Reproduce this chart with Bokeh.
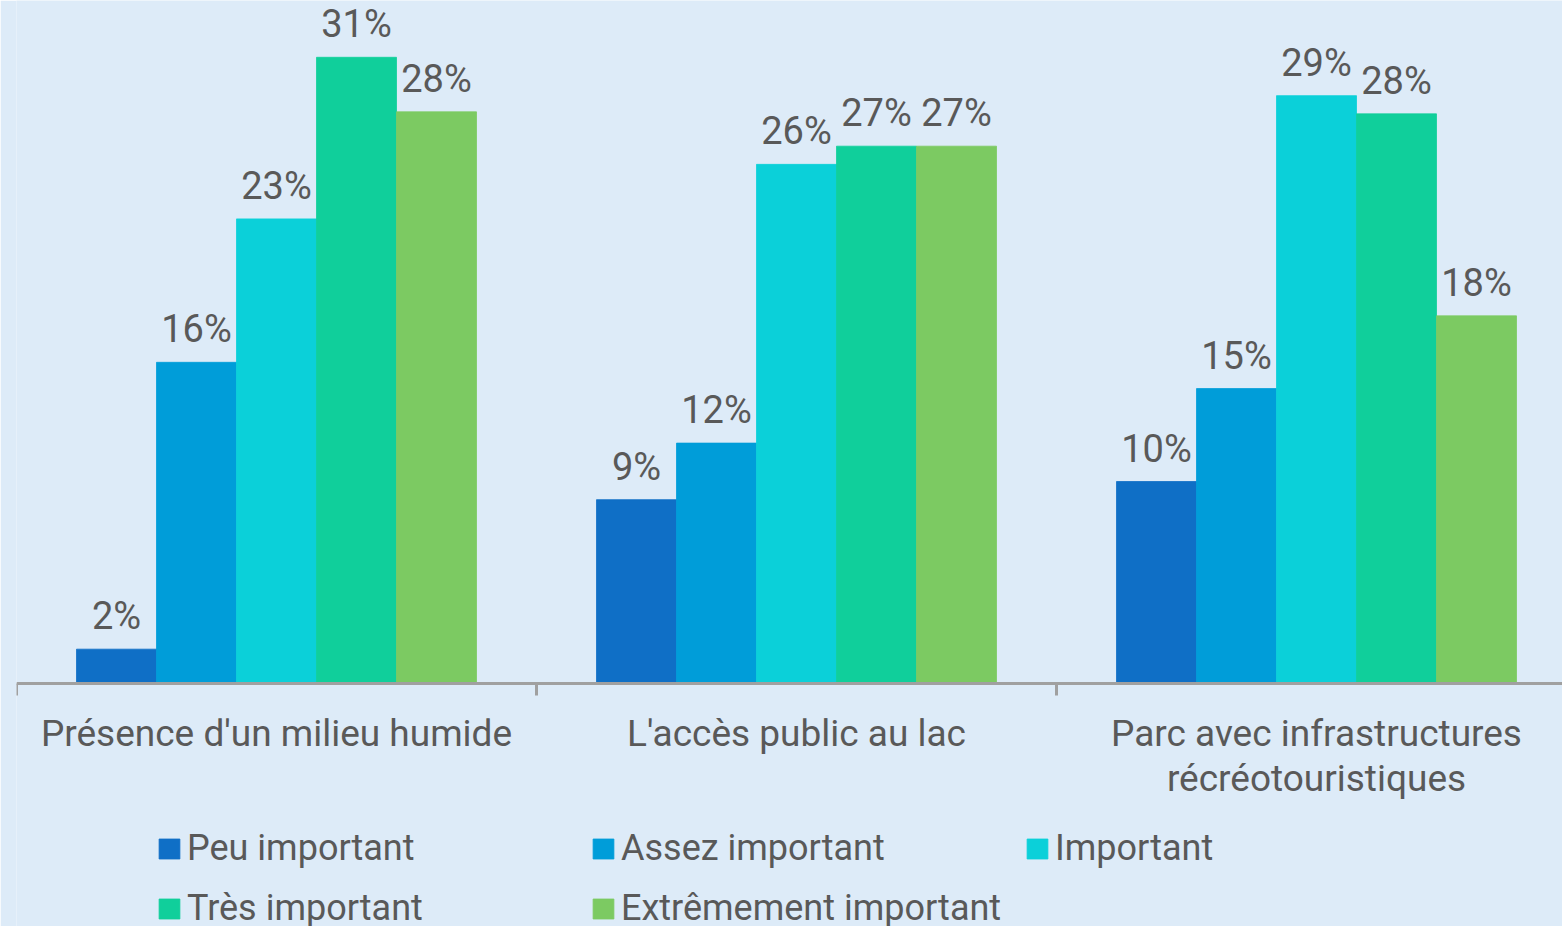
from bokeh.plotting import figure
from bokeh.models import (ColumnDataSource, Range1d, LinearAxis, FixedTicker,
                          LabelSet, Legend, LegendItem)
from bokeh.core.properties import value
from bokeh.embed import file_html
from bokeh.resources import INLINE

# ---- data ----
categories = ["Présence d'un milieu humide", "L'accès public au lac",
              "Parc avec infrastructures\nrécréotouristiques"]
series = ["Peu important", "Assez important", "Important",
          "Très important", "Extrêmement important"]
peu_important = [1.7, 9.1, 10.0]
assez_important = [15.9, 11.9, 14.6]
important = [23.0, 25.7, 29.1]
tres_important = [31.0, 26.6, 28.2]
extremement_important = [28.3, 26.6, 18.2]
colors = ["#0F6FC6", "#009DD9", "#0BD0D9", "#10CF9B", "#7CCA62"]

values = [peu_important, assez_important, important, tres_important, extremement_important]

# ---- layout constants ----
W, H = 1562, 926
LEFT = 16
CAT_PX = 520.0        # pixels per category
BAR_PX = 80.0         # bar width in px
PX_PER_UNIT = 20.2    # pixels per percentage point
BASE_Y = 683          # baseline from figure top
BG = "#DDEBF8"
TXT = "#595959"
AXIS = "#A0A0A0"
FONT = "Roboto"

bar_w = BAR_PX / CAT_PX

p = figure(width=W, height=H, output_backend="svg", toolbar_location=None,
           x_range=Range1d(0, (W - LEFT) / CAT_PX),
           y_range=Range1d(-(H - BASE_Y) / PX_PER_UNIT, BASE_Y / PX_PER_UNIT),
           x_axis_location=None, y_axis_location=None,
           min_border_left=LEFT, min_border_right=0, min_border_top=0, min_border_bottom=0,
           background_fill_color=BG, border_fill_color=BG, outline_line_color=None)
p.xgrid.visible = False
p.ygrid.visible = False

renderers = []
for j, (name, vals, col) in enumerate(zip(series, values, colors)):
    xs = [i + 0.5 + (j - 2) * bar_w for i in range(len(categories))]
    src = ColumnDataSource(dict(x=xs, top=vals,
                                lab=[f"{round(v)}%" for v in vals]))
    r = p.vbar(x="x", top="top", bottom=0, width=bar_w, source=src,
               fill_color=col, line_color=col, line_width=0.8)
    renderers.append(r)
    p.add_layout(LabelSet(x="x", y="top", text="lab", source=src,
                          text_align="center", text_baseline="alphabetic",
                          y_offset=20, text_font=value(FONT),
                          text_font_size="38px", text_color=TXT))

# axis line with boundary ticks
ax = LinearAxis(fixed_location=0, ticker=FixedTicker(ticks=list(range(len(categories) + 1))),
                axis_line_color=AXIS, axis_line_width=3,
                major_tick_line_color=AXIS, major_tick_line_width=3,
                major_tick_out=12, major_tick_in=0,
                minor_tick_line_color=None,
                major_label_text_alpha=0, major_label_text_font_size="1px")
p.add_layout(ax, "below")

# category labels
cat_src = ColumnDataSource(dict(x=[i + 0.5 for i in range(len(categories))],
                                y=[0] * len(categories), t=categories))
p.text(x="x", y="y", text="t", source=cat_src, text_align="center",
       text_baseline="top", y_offset=28, text_font=value(FONT),
       text_font_size="37px", text_color=TXT, text_line_height=1.06)

# legends (three columns)
columns = [[0, 3], [1, 4], [2]]
col_x = [140, 574, 1008]
ITEM_H, GAP = 42, 18
for cx, idxs in zip(col_x, columns):
    items = [LegendItem(label=series[k], renderers=[renderers[k]]) for k in idxs]
    n = len(idxs)
    top = H - 848 + ITEM_H // 2
    height = n * ITEM_H + (n - 1) * GAP
    lg = Legend(items=items, location=(cx, top - height), orientation="vertical",
                glyph_width=26, glyph_height=25, label_standoff=5,
                padding=0, margin=0, spacing=GAP, border_line_color=None,
                background_fill_alpha=0, label_text_font=FONT,
                label_text_font_size="36px", label_text_color=TXT,
                label_height=40)
    p.add_layout(lg, "center")

open("out.html", "w").write(file_html(p, INLINE))
